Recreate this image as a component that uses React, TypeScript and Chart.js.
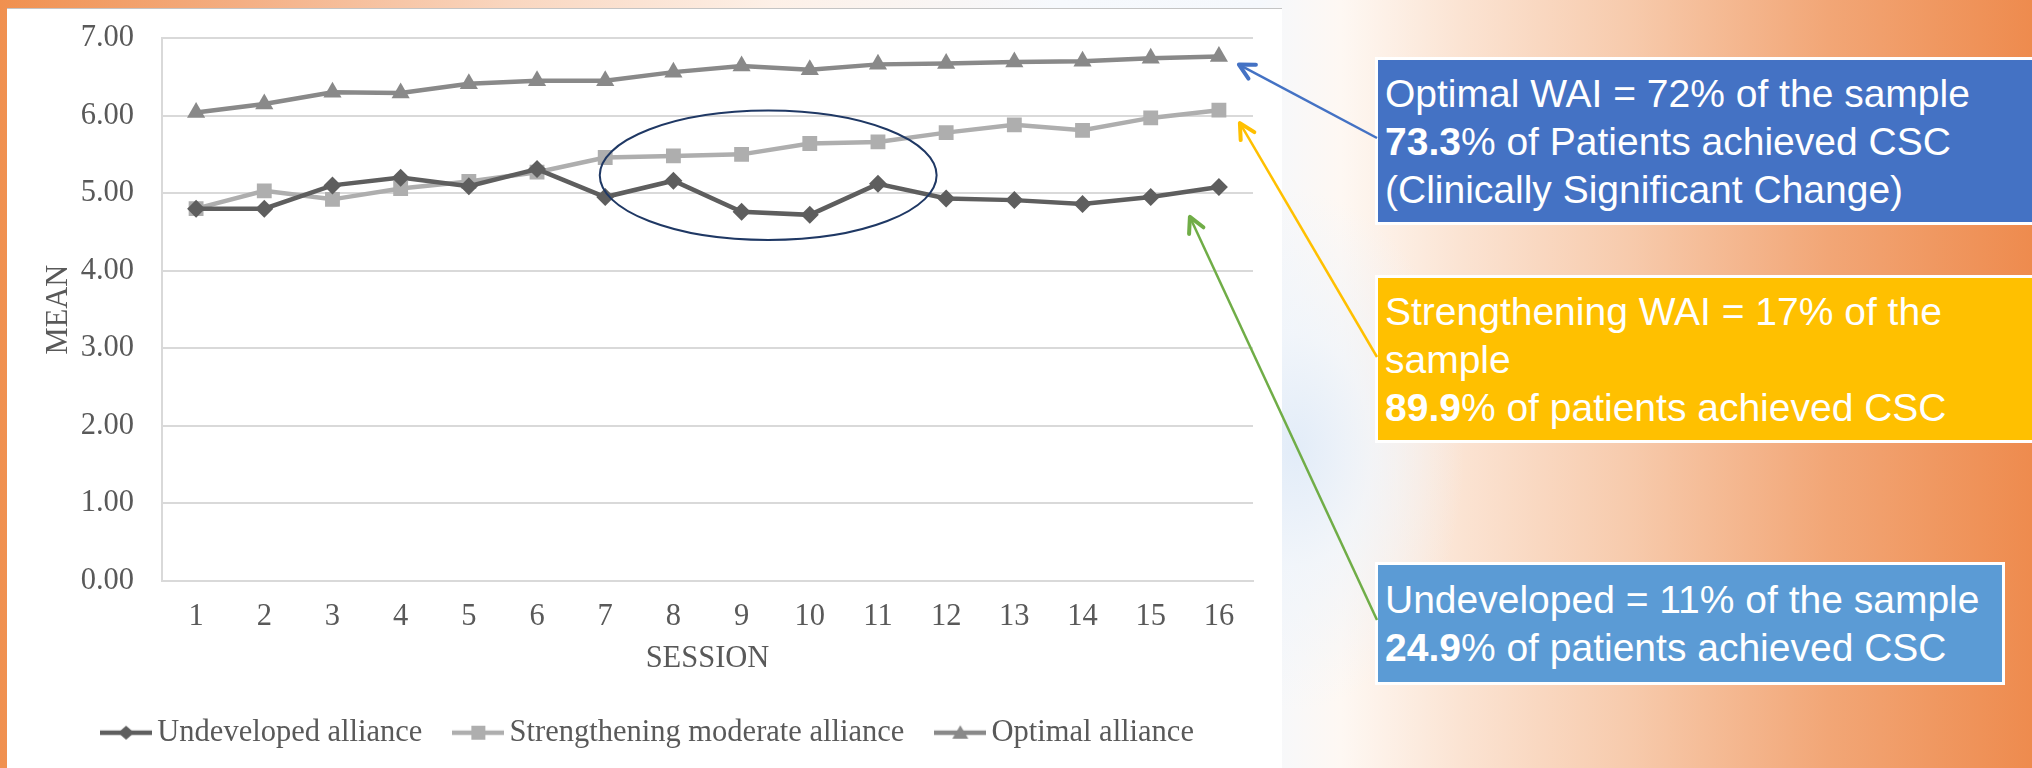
import React, { useEffect, useRef } from 'react';
import { Chart, registerables } from 'chart.js';

Chart.register(...registerables);

// ---------- data ----------
const SESSIONS = ['1', '2', '3', '4', '5', '6', '7', '8', '9', '10', '11', '12', '13', '14', '15', '16'];
const UNDEVELOPED = [4.8, 4.8, 5.1, 5.2, 5.09, 5.31, 4.95, 5.16, 4.76, 4.72, 5.12, 4.93, 4.91, 4.86, 4.95, 5.08];
const STRENGTHENING = [4.8, 5.03, 4.92, 5.06, 5.15, 5.27, 5.46, 5.48, 5.5, 5.64, 5.66, 5.78, 5.88, 5.81, 5.97, 6.07];
const OPTIMAL = [6.04, 6.15, 6.3, 6.29, 6.41, 6.45, 6.45, 6.56, 6.64, 6.59, 6.66, 6.67, 6.69, 6.7, 6.74, 6.76];
const Y_TICKS = [0, 1, 2, 3, 4, 5, 6, 7];
const SERIES_NAMES = ['Undeveloped alliance', 'Strengthening moderate alliance', 'Optimal alliance'];
const X_TITLE = 'SESSION';
const Y_TITLE = 'MEAN';

// highlight ellipse in data units (category index, value)
const ELLIPSE = { cx: 8.39, cy: 5.23, rx: 2.47, ry: 0.834 };

// ---------- styles ----------
const COLORS = ['#5E5E5E', '#AEAEAE', '#898989'];
const POINT_STYLES = ['rectRot', 'rect', 'triangle'];
const POINT_RADII = [9, 10.5, 10.5];
const TEXT = '#595959';
const GRID = '#D9D9D9';
const SERIF = '"Liberation Serif", "Times New Roman", serif';
const SANS = '"Liberation Sans", Arial, sans-serif';
const FS = 30.5;

const PANEL = { left: 7, top: 8, width: 1275, height: 760 };

const BOXES = [
  { top: 57, height: 168, width: 700, bg: '#4472C4', padTop: 9.5, arrowY: 138, arrowColor: '#4472C4', tipDx: 20, tipDy: 8, series: 2 },
  { top: 275, height: 168, width: 700, bg: '#FFC000', padTop: 9.5, arrowY: 357, arrowColor: '#FFC000', tipDx: 21, tipDy: 13, series: 1 },
  { top: 562, height: 123, width: 630, bg: '#5B9BD5', padTop: 10.5, arrowY: 620, arrowColor: '#70AD47', tipDx: -29, tipDy: 30, series: 0 },
];
const BOX_LEFT = 1375;

function legendImage(color: string, style: string) {
  const c = document.createElement('canvas');
  c.width = 52;
  c.height = 20;
  const g = c.getContext('2d')!;
  g.strokeStyle = color;
  g.lineWidth = 4.5;
  g.beginPath();
  g.moveTo(0, 10);
  g.lineTo(52, 10);
  g.stroke();
  g.fillStyle = color;
  g.beginPath();
  if (style === 'rectRot') {
    g.moveTo(26, 3);
    g.lineTo(34, 10);
    g.lineTo(26, 17);
    g.lineTo(18, 10);
  } else if (style === 'rect') {
    g.rect(19, 3, 14, 14);
  } else {
    g.moveTo(26, 2.5);
    g.lineTo(34, 16);
    g.lineTo(18, 16);
  }
  g.closePath();
  g.fill();
  return c;
}

function drawArrow(ctx: CanvasRenderingContext2D, x1: number, y1: number, x2: number, y2: number, color: string) {
  ctx.save();
  ctx.strokeStyle = color;
  ctx.lineWidth = 2.5;
  ctx.beginPath();
  ctx.moveTo(x1, y1);
  ctx.lineTo(x2, y2);
  ctx.stroke();
  const ang = Math.atan2(y2 - y1, x2 - x1);
  const L = 17;
  const a = Math.PI / 6.5;
  ctx.lineWidth = 4;
  ctx.lineCap = 'round';
  ctx.lineJoin = 'round';
  ctx.beginPath();
  ctx.moveTo(x2 - L * Math.cos(ang - a), y2 - L * Math.sin(ang - a));
  ctx.lineTo(x2, y2);
  ctx.lineTo(x2 - L * Math.cos(ang + a), y2 - L * Math.sin(ang + a));
  ctx.stroke();
  ctx.restore();
}

const ellipsePlugin = {
  id: 'highlightEllipse',
  afterDatasetsDraw(chart: any) {
    const { ctx, scales } = chart;
    const x = scales.x;
    const y = scales.y;
    const cx = x.getPixelForValue(ELLIPSE.cx);
    const cy = y.getPixelForValue(ELLIPSE.cy);
    const rx = Math.abs(x.getPixelForValue(ELLIPSE.cx + ELLIPSE.rx) - cx);
    const ry = Math.abs(y.getPixelForValue(ELLIPSE.cy + ELLIPSE.ry) - cy);
    ctx.save();
    ctx.strokeStyle = '#1F3864';
    ctx.lineWidth = 2;
    ctx.beginPath();
    ctx.ellipse(cx, cy, rx, ry, 0, 0, Math.PI * 2);
    ctx.stroke();
    ctx.restore();
  },
};

export default function App() {
  const canvasRef = useRef<HTMLCanvasElement | null>(null);
  const overlayRef = useRef<HTMLCanvasElement | null>(null);

  useEffect(() => {
    document.body.style.margin = '0';
    const canvas = canvasRef.current!;
    const seriesData = [UNDEVELOPED, STRENGTHENING, OPTIMAL];
    const legendImgs = POINT_STYLES.map((s, i) => legendImage(COLORS[i], s));

    const chart = new Chart(canvas, {
      type: 'line',
      data: {
        labels: SESSIONS,
        datasets: seriesData.map((d, i) => ({
          label: SERIES_NAMES[i],
          data: d,
          borderColor: COLORS[i],
          backgroundColor: COLORS[i],
          borderWidth: 4.5,
          pointStyle: POINT_STYLES[i] as any,
          pointRadius: POINT_RADII[i],
          pointBackgroundColor: COLORS[i],
          pointBorderWidth: 0,
          tension: 0,
          fill: false,
        })),
      },
      options: {
        responsive: false,
        maintainAspectRatio: false,
        animation: false,
        layout: { padding: { top: 30, right: 29, left: 44, bottom: 10 } },
        plugins: {
          tooltip: { enabled: false },
          legend: {
            position: 'bottom',
            labels: {
              usePointStyle: true,
              pointStyleWidth: 32,
              padding: 40,
              color: TEXT,
              font: { family: SERIF, size: FS },
              generateLabels: (ch: any) =>
                ch.data.datasets.map((ds: any, i: number) => ({
                  text: ds.label,
                  pointStyle: legendImgs[i],
                  fillStyle: 'transparent',
                  strokeStyle: 'transparent',
                  lineWidth: 0,
                  hidden: false,
                  datasetIndex: i,
                  fontColor: TEXT,
                })),
            },
          },
        },
        scales: {
          x: {
            type: 'category',
            offset: true,
            grid: { display: false, drawTicks: false },
            border: { display: true, color: GRID, width: 2 },
            ticks: { color: TEXT, font: { family: SERIF, size: FS }, padding: 18, maxRotation: 0, autoSkip: false },
            title: { display: true, text: X_TITLE, color: TEXT, font: { family: SERIF, size: FS }, padding: { top: 0, bottom: 0 } },
            afterFit: (s: any) => {
              s.height = 96.5;
            },
          },
          y: {
            min: 0,
            max: 7,
            afterBuildTicks: (s: any) => {
              s.ticks = Y_TICKS.map((v) => ({ value: v }));
            },
            ticks: {
              color: TEXT,
              font: { family: SERIF, size: FS },
              padding: 28,
              callback: (v: any) => Number(v).toFixed(2),
            },
            grid: { color: GRID, lineWidth: 2, drawTicks: false },
            border: { display: true, color: GRID, width: 2 },
            title: {
              display: true,
              text: Y_TITLE,
              color: TEXT,
              font: { family: SERIF, size: FS, lineHeight: 0.5 },
              padding: { top: 0, bottom: 0 },
            },
            afterFit: (s: any) => {
              s.width = 111;
              s.paddingTop = 18;
              s.paddingBottom = 18;
            },
          },
        },
      },
      plugins: [ellipsePlugin],
    });

    // arrows from the boxes to the last point of each series
    const ov = overlayRef.current!;
    const octx = ov.getContext('2d')!;
    octx.clearRect(0, 0, ov.width, ov.height);
    const xs = chart.scales.x;
    const ys = chart.scales.y;
    const last = SESSIONS.length - 1;
    BOXES.forEach((b) => {
      const d = seriesData[b.series];
      const px = xs.getPixelForValue(last) + PANEL.left;
      const py = ys.getPixelForValue(d[last]) + PANEL.top;
      drawArrow(octx, BOX_LEFT + 2, b.arrowY, px + b.tipDx, py + b.tipDy, b.arrowColor);
    });

    return () => {
      chart.destroy();
    };
  }, []);

  const boxBase: React.CSSProperties = {
    position: 'absolute',
    left: BOX_LEFT,
    boxSizing: 'border-box',
    border: '3px solid #FFFFFF',
    color: '#FFFFFF',
    fontFamily: SANS,
    fontSize: 39,
    lineHeight: '48px',
    paddingLeft: 7,
    whiteSpace: 'nowrap',
    overflow: 'hidden',
  };

  return (
    <div
      style={{
        position: 'absolute',
        left: 0,
        top: 0,
        width: 2032,
        height: 768,
        overflow: 'hidden',
        background:
          'radial-gradient(ellipse 170px 260px at 1295px 450px, rgba(226,236,248,1) 0%, rgba(238,244,251,0.7) 45%, rgba(255,255,255,0) 100%),' +
          'linear-gradient(90deg, #F0904F 0%, #F4AF84 12%, #F9D6BF 25%, #FDF0E7 38%, #F6F9FD 52%, #F5F8FC 62%, #FEF8F3 66%, #FBE3D2 72%, #F7CBAD 80%, #F2A676 90%, #EE8B4E 100%)',
      }}
    >
      <div
        style={{
          position: 'absolute',
          left: PANEL.left,
          top: PANEL.top,
          width: PANEL.width,
          height: PANEL.height,
          background: '#FFFFFF',
        }}
      >
        <canvas
          ref={canvasRef}
          width={PANEL.width}
          height={PANEL.height}
          style={{ display: 'block', width: PANEL.width, height: PANEL.height }}
        />
      </div>
      <div style={{ position: 'absolute', left: PANEL.left, top: PANEL.top, width: PANEL.width, height: 1, background: '#C4C4C4' }} />

      <div style={{ ...boxBase, top: BOXES[0].top, height: BOXES[0].height, width: BOXES[0].width, background: BOXES[0].bg, paddingTop: BOXES[0].padTop }}>
        Optimal WAI = 72% of the sample
        <br />
        <b>73.3</b>% of Patients achieved CSC
        <br />
        (Clinically Significant Change)
      </div>
      <div style={{ ...boxBase, top: BOXES[1].top, height: BOXES[1].height, width: BOXES[1].width, background: BOXES[1].bg, paddingTop: BOXES[1].padTop }}>
        Strengthening WAI = 17% of the
        <br />
        sample
        <br />
        <b>89.9</b>% of patients achieved CSC
      </div>
      <div style={{ ...boxBase, top: BOXES[2].top, height: BOXES[2].height, width: BOXES[2].width, background: BOXES[2].bg, paddingTop: BOXES[2].padTop }}>
        Undeveloped = 11% of the sample
        <br />
        <b>24.9</b>% of patients achieved CSC
      </div>

      <canvas
        ref={overlayRef}
        width={2032}
        height={768}
        style={{ position: 'absolute', left: 0, top: 0, width: 2032, height: 768, pointerEvents: 'none' }}
      />
    </div>
  );
}
